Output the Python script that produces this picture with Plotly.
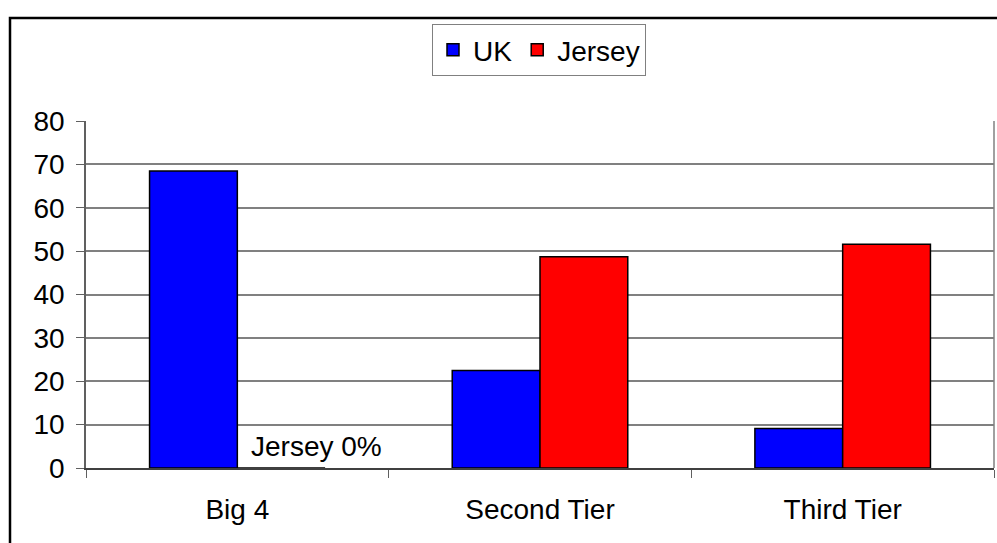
import plotly.graph_objects as go

categories = ["Big 4", "Second Tier", "Third Tier"]
uk_values = [68.5, 22.5, 9.1]
jersey_values = [0, 48.7, 51.6]
y_ticks = [0, 10, 20, 30, 40, 50, 60, 70, 80]

FONT = "Liberation Sans, Arial, sans-serif"
FS = 28
W, H = 997, 543
L, R, T, B = 86, 3, 121, 75
pw = W - L - R
ph = H - T - B

def px_x(p):
    return (p - L) / pw

def px_y(p):
    return (H - B - p) / ph

fig = go.Figure()
fig.add_trace(go.Bar(x=categories, y=uk_values, name="UK",
                     marker=dict(color="#0000FF", line=dict(color="black", width=1.5))))
fig.add_trace(go.Bar(x=categories, y=jersey_values, name="Jersey",
                     marker=dict(color="#FF0000", line=dict(color="black", width=1.5))))

fig.add_annotation(x=0.26, y=5, xref="x", yref="y", text="Jersey 0%", showarrow=False,
                   font=dict(family=FONT, size=FS, color="black"))

# outer chart border (extends past right/bottom edges)
fig.add_shape(type="rect", xref="paper", yref="paper",
              x0=px_x(10), x1=px_x(1005), y0=px_y(552), y1=px_y(18),
              line=dict(color="black", width=2.5), fillcolor="rgba(0,0,0,0)", layer="above")

fig.update_layout(
    width=W, height=H,
    margin=dict(l=L, r=R, t=T, b=B),
    paper_bgcolor="white", plot_bgcolor="white",
    font=dict(family=FONT, size=FS, color="black"),
    barmode="group", bargap=0.42, bargroupgap=0,
    showlegend=True,
    legend=dict(orientation="h", x=px_x(539), xanchor="center", y=px_y(24), yanchor="top",
                bordercolor="#808080", borderwidth=1, bgcolor="white",
                font=dict(family=FONT, size=FS), itemwidth=30, tracegroupgap=0),
    xaxis=dict(range=[-0.5, 2.5], showline=True, linecolor="#404040", linewidth=1.5, mirror=False,
               ticks="outside", tickson="boundaries", ticklen=8, tickcolor="#606060",
               showgrid=False, ticklabelstandoff=16, fixedrange=True),
    yaxis=dict(range=[0, 80], tickvals=y_ticks, showline=True, linecolor="#606060", linewidth=1.5,
               ticks="outside", ticklen=8, tickcolor="#606060",
               showgrid=True, gridcolor="#808080", gridwidth=1.5, zeroline=False,
               ticklabelstandoff=6, fixedrange=True),
)
# right border of plot area
fig.add_shape(type="line", xref="paper", yref="paper", x0=1, x1=1, y0=0, y1=1,
              line=dict(color="#808080", width=1.5))

fig.write_html("out.html")
